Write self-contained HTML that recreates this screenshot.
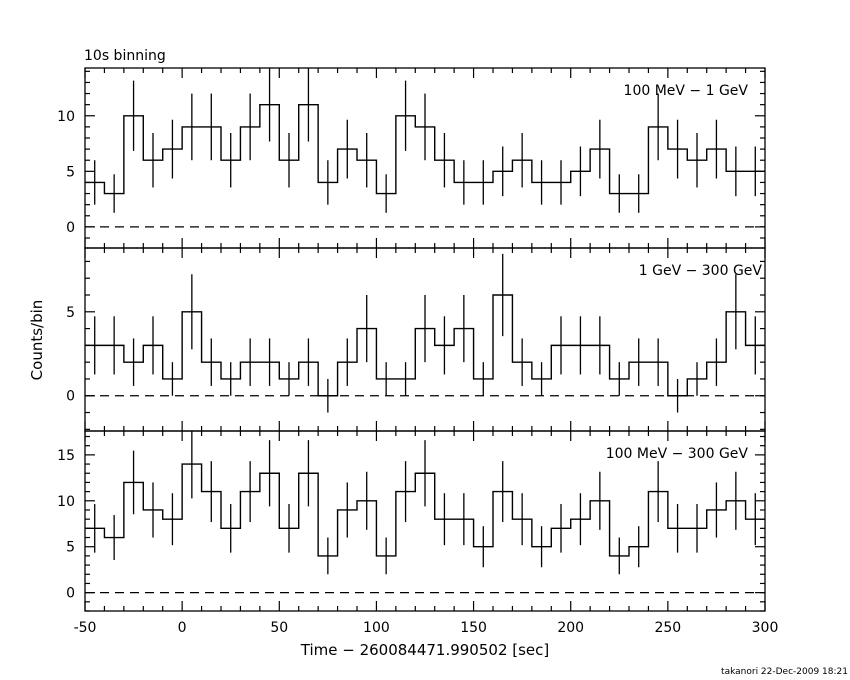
<!DOCTYPE html>
<html><head><meta charset="utf-8"><style>
html,body{margin:0;padding:0;background:#fff;}
svg{display:block;font-family:"DejaVu Sans","Liberation Sans",sans-serif;}
</style></head><body>
<svg id="chart" width="850" height="680" xmlns="http://www.w3.org/2000/svg"></svg>
<script>
const binStarts = [-50,-40,-30,-20,-10,0,10,20,30,40,50,60,70,80,90,100,110,120,130,140,150,160,170,180,190,200,210,220,230,240,250,260,270,280,290];
const countsLow = [4,3,10,6,7,9,9,6,9,11,6,11,4,7,6,3,10,9,6,4,4,5,6,4,4,5,7,3,3,9,7,6,7,5,5];
const countsHigh = [3,3,2,3,1,5,2,1,2,2,1,2,0,2,4,1,1,4,3,4,1,6,2,1,3,3,3,1,2,2,0,1,2,5,3];
const countsAll = [7,6,12,9,8,14,11,7,11,13,7,13,4,9,10,4,11,13,8,8,5,11,8,5,7,8,10,4,5,11,7,7,9,10,8];
const xTicks = [-50,0,50,100,150,200,250,300];
const panelLabels = ["100 MeV \u2212 1 GeV","1 GeV \u2212 300 GeV","100 MeV \u2212 300 GeV"];
const panelYTicks = [[0,5,10],[0,5],[0,5,10,15]];

const NS="http://www.w3.org/2000/svg";
const svg=document.getElementById('chart');
function mk(tag,attrs,parent){const e=document.createElementNS(NS,tag);for(const k in attrs)e.setAttribute(k,attrs[k]);(parent||svg).appendChild(e);return e;}
const X0=85,X1=765,xmin=-50,xmax=300,binW=10;
const xs=v=>X0+(v-xmin)/(xmax-xmin)*(X1-X0);
const panels=[
 {top:68,bot:248,ymin:-1.9,ymax:14.3,data:countsLow},
 {top:248,bot:431,ymin:-2.1,ymax:8.8,data:countsHigh},
 {top:431,bot:611,ymin:-2.0,ymax:17.6,data:countsAll}
];
panels.forEach((p,pi)=>{
  const g=mk('g',{});
  
  
  const ys=v=>p.bot-(v-p.ymin)/(p.ymax-p.ymin)*(p.bot-p.top);
  const fr=mk('rect',{x:X0,y:p.top,width:X1-X0,height:p.bot-p.top,fill:'none',stroke:'#000','stroke-width':1.3},g);
  
  
  for(let v=xmin;v<=xmax;v+=10){
    const len=(v%50===0)?10:5;
    mk('line',{x1:xs(v),x2:xs(v),y1:p.bot,y2:p.bot-len,stroke:'#000','stroke-width':1.2},g);
    mk('line',{x1:xs(v),x2:xs(v),y1:p.top,y2:p.top+len,stroke:'#000','stroke-width':1.2},g);
  }
  for(let v=Math.ceil(p.ymin);v<=p.ymax;v++){
    const len=(v%5===0)?10:5;
    mk('line',{x1:X0,x2:X0+len,y1:ys(v),y2:ys(v),stroke:'#000','stroke-width':1.2},g);
    mk('line',{x1:X1,x2:X1-len,y1:ys(v),y2:ys(v),stroke:'#000','stroke-width':1.2},g);
  }
  panelYTicks[pi].forEach(v=>{
    const t=mk('text',{x:75,y:ys(v)+5,'text-anchor':'end','font-size':14},g);
    
    
    t.textContent=v;
  });
  const z=mk('line',{x1:X0,x2:X1,y1:ys(0),y2:ys(0),stroke:'#000','stroke-width':1.2,'stroke-dasharray':'9,6'},g);
  
  
  let d='';
  p.data.forEach((c,i)=>{
    const x0=xs(binStarts[i]),x1=xs(binStarts[i]+binW),y=ys(c);
    d+=(i===0?'M':'L')+x0+','+y+' L'+x1+','+y+' ';
  });
  const path=mk('path',{d:d,fill:'none',stroke:'#000','stroke-width':1.4},g);
  
  
  p.data.forEach((c,i)=>{
    const xc=xs(binStarts[i]+binW/2);
    let e=Math.sqrt(c);
    if(e<=0) e=1;
    const eb=mk('line',{x1:xc,x2:xc,y1:Math.max(ys(c+e),p.top),y2:Math.min(ys(c-e),p.bot),stroke:'#000','stroke-width':1.3},g);
    
    
  });
  const lbl=mk('text',{x:pi===1?762:748,y:p.top+27,'text-anchor':'end','font-size':14},g);
  
  
  lbl.textContent=panelLabels[pi];
});
xTicks.forEach(v=>{
  const t=mk('text',{x:xs(v),y:632,'text-anchor':'middle','font-size':14});
  
  
  t.textContent=v;
});
</script>
<svg style="position:absolute;left:0;top:0" width="850" height="680" xmlns="http://www.w3.org/2000/svg" font-family="DejaVu Sans, Liberation Sans, sans-serif">
<text x="84" y="60" font-size="14">10s binning</text>
<text x="42" y="340" font-size="15" text-anchor="middle" transform="rotate(-90 42 340)">Counts/bin</text>
<text x="425" y="655" font-size="15" text-anchor="middle">Time − 260084471.990502 [sec]</text>
<text x="848" y="674" font-size="9" text-anchor="end">takanori 22-Dec-2009 18:21</text>
</svg>
</body></html>
